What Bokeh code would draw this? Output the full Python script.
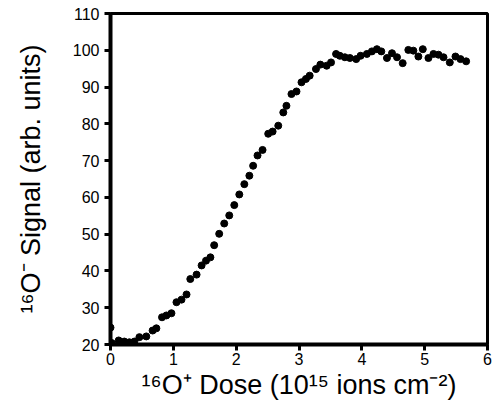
from bokeh.plotting import figure
from bokeh.models import Range1d, FixedTicker
from bokeh.embed import file_html
from bokeh.resources import INLINE

dose = [0.00, 0.02, 0.13, 0.22, 0.30, 0.38, 0.46, 0.57, 0.67, 0.73,
        0.82, 0.89, 0.97, 1.05, 1.13, 1.21, 1.27, 1.37, 1.45, 1.52,
        1.59, 1.65, 1.73, 1.81, 1.89, 1.97, 2.05, 2.13, 2.21, 2.27,
        2.34, 2.42, 2.51, 2.58, 2.67, 2.75, 2.80, 2.88, 2.96, 3.04,
        3.11, 3.17, 3.27, 3.34, 3.44, 3.51, 3.59, 3.65, 3.73, 3.81,
        3.91, 3.98, 4.08, 4.16, 4.24, 4.31, 4.40, 4.48, 4.56, 4.65,
        4.74, 4.82, 4.90, 4.97, 5.06, 5.14, 5.22, 5.30, 5.40, 5.49,
        5.57, 5.66]
signal = [24.6, 20.4, 21.1, 20.8, 20.6, 20.8, 22.0, 22.2, 23.8, 24.4,
          27.4, 27.9, 28.5, 31.5, 32.2, 33.6, 37.8, 39.0, 41.5, 42.8,
          43.7, 47.0, 50.1, 52.9, 55.1, 57.9, 60.8, 63.6, 65.9, 68.6,
          71.4, 72.9, 77.3, 77.9, 79.5, 83.1, 84.9, 88.1, 88.8, 91.3,
          92.2, 93.1, 94.9, 96.1, 95.8, 96.7, 99.0, 98.5, 98.1, 97.9,
          97.6, 98.5, 99.0, 99.7, 100.3, 99.7, 97.9, 99.2, 98.1, 96.5,
          100.1, 99.9, 98.3, 100.3, 97.9, 99.0, 98.8, 98.1, 96.7, 98.3,
          97.6, 97.0]

x_ticks = [0, 1, 2, 3, 4, 5, 6]
y_ticks = [20, 30, 40, 50, 60, 70, 80, 90, 100, 110]

p = figure(width=493, height=407, output_backend="svg", toolbar_location=None,
           x_range=Range1d(0, 6), y_range=Range1d(20, 110),
           min_border_left=110, min_border_right=6, min_border_top=13,
           min_border_bottom=63)

p.scatter(dose, signal, size=7, fill_color="black", line_color="black")

p.xgrid.visible = False
p.ygrid.visible = False
p.outline_line_color = "black"
p.outline_line_width = 3
p.outline_line_alpha = 1

p.xaxis.ticker = FixedTicker(ticks=x_ticks)
p.yaxis.ticker = FixedTicker(ticks=y_ticks)

for ax in (p.xaxis, p.yaxis):
    ax.axis_line_width = 4
    ax.axis_line_color = "black"
    ax.major_tick_line_width = 3
    ax.major_tick_line_color = "black"
    ax.major_tick_in = 0
    ax.major_tick_out = 6
    ax.minor_tick_line_color = None
    ax.major_label_text_font = "Liberation Sans"
    ax.major_label_text_font_size = "16px"
    ax.major_label_text_color = "black"
    ax.axis_label_text_font = "Liberation Sans"
    ax.axis_label_text_font_style = "normal"
    ax.axis_label_text_font_size = "27px"
    ax.axis_label_text_color = "black"

p.xaxis.major_label_standoff = 2
p.yaxis.major_label_standoff = 5
p.xaxis.axis_label = "¹⁶O⁺ Dose (10¹⁵ ions cm⁻²)"
p.yaxis.axis_label = "¹⁶O⁻ Signal (arb. units)"
p.xaxis.axis_label_standoff = 2
p.yaxis.axis_label_standoff = 24

open("out.html", "w").write(file_html(p, INLINE))
